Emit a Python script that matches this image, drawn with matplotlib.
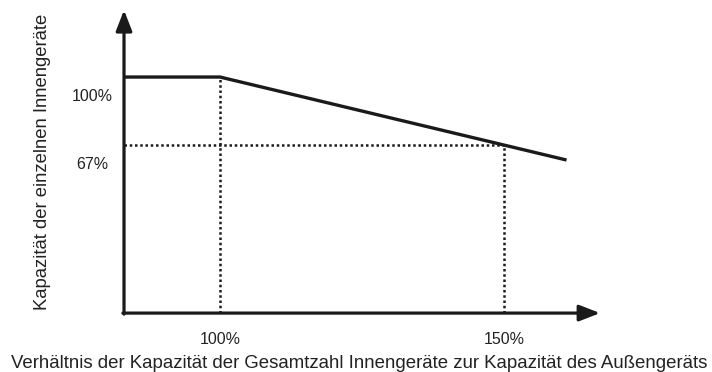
import matplotlib
matplotlib.use("Agg")
import matplotlib.pyplot as plt

plt.rcParams['font.family'] = ['Liberation Sans', 'DejaVu Sans']

# Kennlinie: Gesamtverhältnis (%) -> Kapazität je Innengerät (%)
ratio = [83, 100, 161]
capacity = [100, 100, 59.7]

# markierte Stützpunkte
ratio_marks = [100, 150]
capacity_marks = [100, 67]
x_ticklabels = ['100%', '150%']
y_ticklabels = ['100%', '67%']

x_origin, y_origin = 83.1, -14.6
x_end, y_end = 166.9, 132.5

fig = plt.figure(figsize=(7.12, 3.72), dpi=100)
ax = fig.add_axes([0, 0, 1, 1])
ax.set_xlim(61.27, 186.6)
ax.set_ylim(-43.2, 137.4)
ax.axis('off')

# Achsen mit Pfeilspitzen
arrow = dict(arrowstyle='-|>,head_length=0.9,head_width=0.35', lw=2.3,
             color='#1a1a1a', shrinkA=0, shrinkB=0, mutation_scale=14)
ax.annotate('', xy=(x_end, y_origin), xytext=(x_origin - 0.2, y_origin), arrowprops=arrow)
ax.annotate('', xy=(x_origin, y_end), xytext=(x_origin, y_origin - 0.5), arrowprops=arrow)

# Hilfslinien
dot = dict(color='#1a1a1a', lw=1.8, linestyle=(0, (1, 1.1)))
ax.plot([ratio_marks[0], ratio_marks[0]], [y_origin, capacity_marks[0]], **dot)
ax.plot([ratio_marks[1], ratio_marks[1]], [y_origin, capacity_marks[1]], **dot)
ax.plot([x_origin, ratio_marks[1]], [capacity_marks[1], capacity_marks[1]], **dot)

# Kennlinie
ax.plot(ratio, capacity, color='#1a1a1a', lw=2.4, solid_capstyle='butt')

for x, lab in zip(ratio_marks, x_ticklabels):
    ax.annotate(lab, (x, y_origin), xytext=(0, -18.7), textcoords='offset points',
                ha='center', va='center', fontsize=11.5, color='#222222')
for y, lab in zip(capacity_marks, y_ticklabels):
    ax.annotate(lab, (x_origin, y), xytext=(-23, -13.7), textcoords='offset points',
                ha='center', va='center', fontsize=11.5, color='#222222')

fig.text(0.505, 0.011, 'Verhältnis der Kapazität der Gesamtzahl Innengeräte zur Kapazität des Außengeräts',
         ha='center', va='baseline', fontsize=13.4, color='#222222')
fig.text(0.059, 0.566, 'Kapazität der einzelnen Innengeräte', rotation=90,
         ha='center', va='center', fontsize=13.3, color='#222222')

fig.savefig('out.png', dpi=100)
